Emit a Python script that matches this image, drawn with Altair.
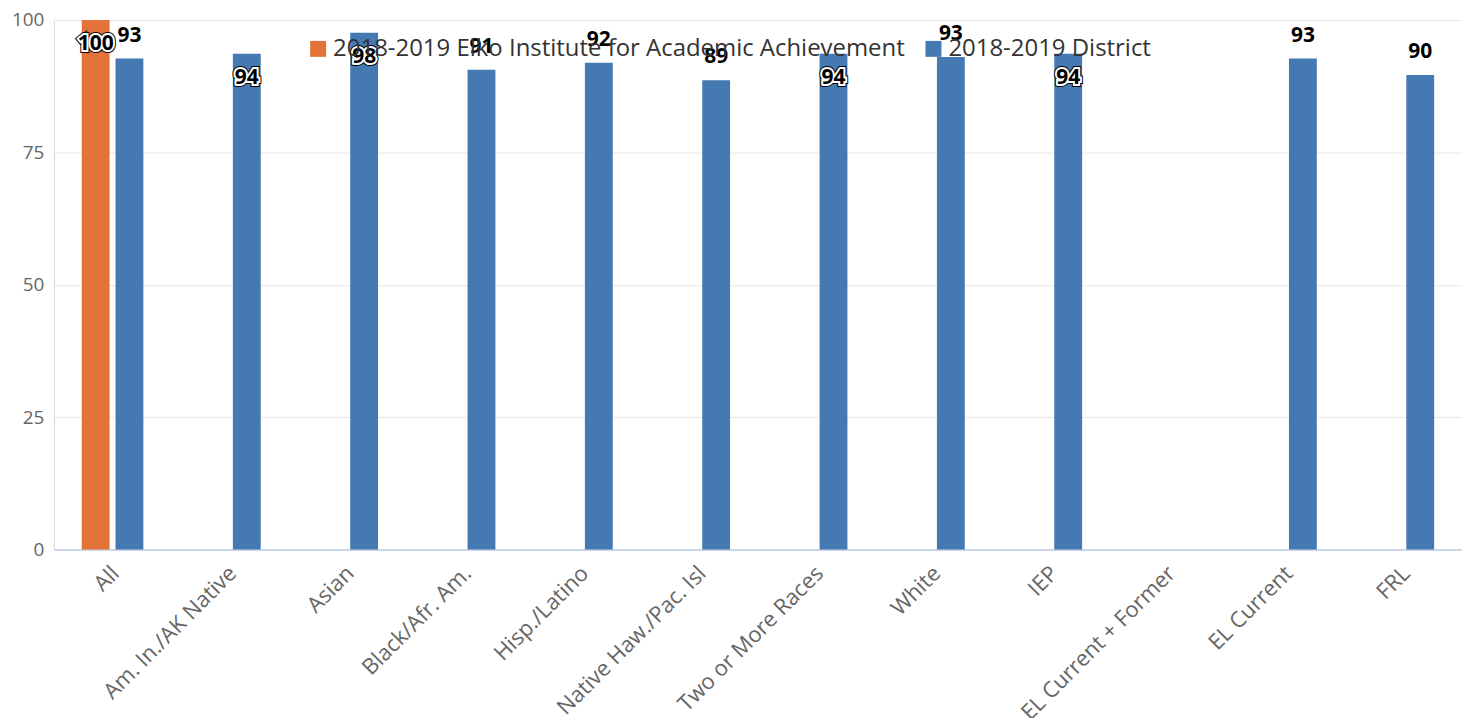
import altair as alt
import pandas as pd

categories = ["All", "Am. In./AK Native", "Asian", "Black/Afr. Am.", "Hisp./Latino",
              "Native Haw./Pac. Isl", "Two or More Races", "White", "IEP",
              "EL Current + Former", "EL Current", "FRL"]
series_names = ["2018-2019 Elko Institute for Academic Achievement", "2018-2019 District"]
school_values = [100, None, None, None, None, None, None, None, None, None, None, None]
district_values = [92.7, 93.6, 97.6, 90.6, 91.9, 88.6, 93.6, 93.0, 93.6, None, 92.7, 89.6]
colors = ["#E4733A", "#4479B2"]

rows = []
for i, c in enumerate(categories):
    rows.append({"category": c, "series": series_names[0], "value": school_values[i]})
    rows.append({"category": c, "series": series_names[1], "value": district_values[i]})
df = pd.DataFrame(rows)

FONT = "Open Sans"

x = alt.X("category:N", title=None,
          scale=alt.Scale(domain=categories, paddingInner=0, paddingOuter=0),
          axis=alt.Axis(labelAngle=-45, labelAlign="right", labelBaseline="middle",
                        labelFontSize=22, labelColor="#666666", labelFont=FONT,
                        ticks=False, domainColor="#ccd6eb", domainWidth=2,
                        labelPadding=20, labelOffset=3, grid=False, labelLimit=400))
xo = alt.XOffset("series:N",
                 scale=alt.Scale(domain=series_names, paddingInner=0.176, paddingOuter=0.824))
y = alt.Y("value:Q", title=None,
          scale=alt.Scale(domain=[0, 100], nice=False),
          axis=alt.Axis(values=[0, 25, 50, 75, 100], ticks=False, labelFontSize=19,
                        labelColor="#666666", labelFont=FONT, gridColor="#e6e6e6",
                        domainColor="#d8d8d8", labelPadding=10))
color = alt.Color("series:N",
                  scale=alt.Scale(domain=series_names, range=colors),
                  legend=alt.Legend(orient="none", legendX=253, legendY=17,
                                    direction="horizontal", title=None,
                                    symbolType="square", symbolSize=256,
                                    symbolStrokeWidth=0, symbolOpacity=1,
                                    labelFontSize=24, labelColor="#333333",
                                    labelFont=FONT, columnPadding=16,
                                    labelOffset=3, padding=0, labelLimit=800))

base = alt.Chart(df).transform_filter("isValid(datum.value)")

bars = base.mark_bar().encode(x=x, xOffset=xo, y=y, color=color)

lab = base.encode(x=x, xOffset=xo, y=y, text=alt.Text("value:Q", format=".0f"))
inside = lab.transform_filter("datum.value >= 93.5")
above = lab.transform_filter("datum.value < 93.5")

tstyle = dict(font=FONT, fontSize=21, fontWeight="bold", align="center")
in1 = inside.mark_text(**tstyle, dy=24, color="black", stroke="black", strokeWidth=6)
in2 = inside.mark_text(**tstyle, dy=24, color="white", stroke="white", strokeWidth=4)
in3 = inside.mark_text(**tstyle, dy=24, color="black")
ab = above.mark_text(**tstyle, dy=-23, color="black")

chart = alt.layer(bars, in1, in2, in3, ab).properties(
    width=1412, height=531,
    autosize=alt.AutoSizeParams(type="none"),
    padding={"left": 46, "top": 11, "right": 0, "bottom": 168},
).configure_view(stroke=None)

chart.save("out.html", embed_options={"renderer": "svg", "actions": False})
